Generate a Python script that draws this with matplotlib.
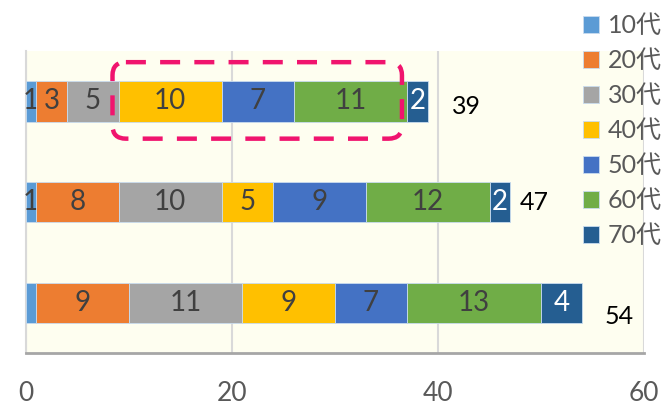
import matplotlib
matplotlib.use("Agg")
import matplotlib.pyplot as plt
from matplotlib.patches import FancyBboxPatch
import numpy as np

plt.rcParams['font.family'] = ['Lato', 'Noto Sans CJK JP', 'DejaVu Sans']

# age groups (legend) and one row per bar, top to bottom
age_groups = ['10代', '20代', '30代', '40代', '50代', '60代', '70代']
colors = ['#5B9BD5', '#ED7D31', '#A5A5A5', '#FFC000', '#4472C4', '#70AD47', '#255E91']
bar_rows = [0, 1, 2]
counts = [
    [1, 3, 5, 10, 7, 11, 2],
    [1, 8, 10, 5, 9, 12, 2],
    [1, 9, 11, 9, 7, 13, 4],
]
# the bottom bar shows no label on its 10代 piece
show_label = [
    [True] * 7,
    [True] * 7,
    [False, True, True, True, True, True, True],
]
xticks = [0, 20, 40, 60]

counts = np.array(counts)
totals = counts.sum(axis=1)

fig = plt.figure(figsize=(6.66, 4.12), dpi=100)
ax = fig.add_axes([0.039, 0.143, 0.928, 0.733])
ax.set_facecolor('#FEFEF0')

left = np.zeros(len(bar_rows))
for i, grp in enumerate(age_groups):
    bars = ax.barh(bar_rows, counts[:, i], left=left, height=0.4,
                   color=colors[i], label=grp, edgecolor='#C9DCEF',
                   linewidth=0.6, zorder=3)
    labels = [str(v) if show_label[r][i] else '' for r, v in enumerate(counts[:, i])]
    txt_color = 'white' if i == 6 else '#404040'
    ax.bar_label(bars, labels=labels, label_type='center', color=txt_color,
                 fontsize=20)
    left += counts[:, i]

# totals next to each bar
total_dx = [3.8, 2.3, 3.6]
total_dy = [0.05, 0.0, 0.14]
for r in bar_rows:
    ax.text(totals[r] + total_dx[r], r + total_dy[r], str(totals[r]),
            ha='center', va='center', fontsize=18, color='black', zorder=4)

# dashed highlight around 40代-60代 of the top bar
cum = np.cumsum(counts[0])
x0 = cum[2] - 0.6
x1 = cum[5] - 0.5
box = FancyBboxPatch((x0, -0.39), x1 - x0, 0.76,
                     boxstyle='round,pad=0,rounding_size=1.3',
                     mutation_aspect=0.1, fill=False,
                     edgecolor='#F0146E', linewidth=3.2,
                     linestyle=(0, (4.5, 3.2)), zorder=5, clip_on=False)
ax.add_patch(box)

ax.set_xlim(0, 60)
ax.set_ylim(2.5, -0.5)
ax.set_xticks(xticks)
ax.set_yticks([])
ax.xaxis.grid(True, color='#D9D9D9', linewidth=1.5, zorder=0)
ax.tick_params(axis='x', length=0, pad=20, labelsize=19, labelcolor='#595959')
for s in ['top', 'right']:
    ax.spines[s].set_visible(False)
ax.spines['left'].set_color('#D9D9D9')
ax.spines['left'].set_linewidth(1.5)
ax.spines['bottom'].set_color('#A6A6A6')
ax.spines['bottom'].set_linewidth(2)

leg = fig.legend(loc='upper left', bbox_to_anchor=(0.86, 0.99), frameon=False,
                 fontsize=18, labelcolor='#595959', handlelength=0.65,
                 handleheight=0.65, handletextpad=0.35, labelspacing=0.48,
                 borderaxespad=0)

plt.savefig('out.png', dpi=100)
